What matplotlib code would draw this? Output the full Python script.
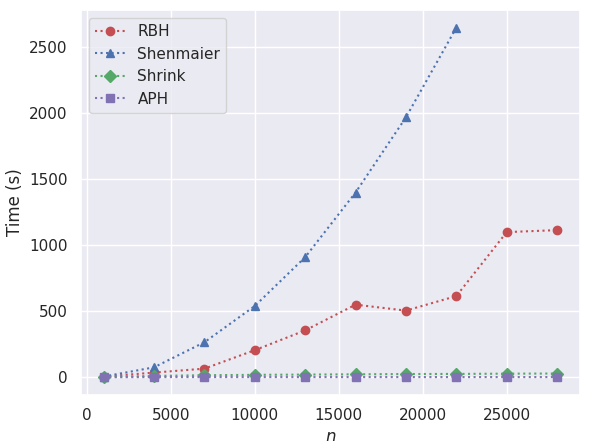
import matplotlib
matplotlib.use("Agg")
import matplotlib.pyplot as plt
import seaborn as sns

sns.set_theme(style="darkgrid", color_codes=True)

n = [1000, 4000, 7000, 10000, 13000, 16000, 19000, 22000, 25000, 28000]
rbh = [5, 35, 65, 205, 355, 550, 505, 615, 1100, 1115]
shen_n = n[:8]
shen = [5, 75, 265, 540, 910, 1400, 1970, 2650]
shrink = [2, 10, 15, 18, 20, 22, 24, 25, 27, 28]
aph = [0, 1, 1, 1, 1, 1, 1, 1, 1, 1]

fig, ax = plt.subplots(figsize=(5.91, 4.41), dpi=100)
ax.plot(n, rbh, 'ro:', label='RBH')
ax.plot(shen_n, shen, 'b^:', label='Shenmaier')
ax.plot(n, shrink, 'gD:', label='Shrink')
ax.plot(n, aph, 'ms:', label='APH')
ax.set_xlabel('$n$')
ax.set_ylabel('Time (s)')
ax.legend(loc='upper left')
fig.subplots_adjust(left=0.137, right=0.981, top=0.977, bottom=0.105)
fig.savefig('out.png')
